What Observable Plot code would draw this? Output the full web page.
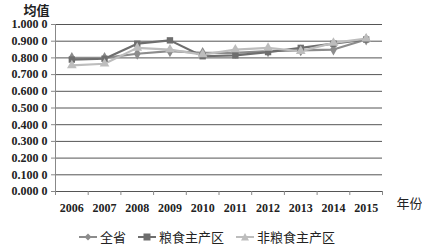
<!DOCTYPE html>
<html>
<head>
<meta charset="utf-8">
<script src="https://cdn.jsdelivr.net/npm/d3@7"></script>
<script src="https://cdn.jsdelivr.net/npm/@observablehq/plot@0.6"></script>
<style>
  body { margin: 0; background: #fff; }
  #chart svg { display: block; }
  #chart svg g[aria-label$="axis"] text, #chart svg g[aria-label$="tick label"] text { font-family: "Liberation Serif", "Times New Roman", serif !important; }
  #legend { height: 29px; display: flex; align-items: center; padding-left: 79px;
    font-family: "Noto Sans CJK SC", sans-serif; font-size: 13px; color: #222; }
  #legend .item { display: flex; align-items: center; margin-right: 12px; }
  #legend svg { margin-right: 3px; }
</style>
</head>
<body>
<div id="chart"></div>
<div id="legend"></div>
<script>
const years = [2006, 2007, 2008, 2009, 2010, 2011, 2012, 2013, 2014, 2015];
const seriesNames = ["全省", "粮食主产区", "非粮食主产区"];
const province = [0.800, 0.800, 0.825, 0.840, 0.830, 0.830, 0.840, 0.845, 0.850, 0.910];
const grainMain = [0.790, 0.795, 0.885, 0.905, 0.810, 0.815, 0.835, 0.860, 0.885, 0.910];
const nonGrain = [0.755, 0.765, 0.860, 0.850, 0.820, 0.850, 0.860, 0.840, 0.890, 0.915];
const yTicks = [0, 0.1, 0.2, 0.3, 0.4, 0.5, 0.6, 0.7, 0.8, 0.9, 1.0];

const colors = ["#8c8c8c", "#6e6e6e", "#bdbdbd"];
const symbols = ["diamond", "square", "triangle"];
const valuesList = [province, grainMain, nonGrain];

const data = [];
seriesNames.forEach((s, i) => years.forEach((yr, j) => data.push({series: s, year: yr, value: valuesList[i][j]})));
const boundaries = [...years.map(y => y - 0.5), years[years.length - 1] + 0.5];

const fmt = v => { const s = d3.format(".4f")(v); return s.slice(0, -1) + " " + s.slice(-1); };
const serif = "Liberation Serif, Times New Roman, serif";

const chart = Plot.plot({
  width: 422,
  height: 222,
  marginLeft: 55,
  marginRight: 40,
  marginTop: 24,
  marginBottom: 31,
  style: { fontFamily: serif, fontSize: "12px", fontWeight: "bold", color: "#222", background: "#fff" },
  x: { domain: [2005.5, 2015.5] },
  y: { domain: [0, 1] },
  color: { domain: seriesNames, range: colors },
  symbol: { domain: seriesNames, range: symbols },
  marks: [
    Plot.ruleY(yTicks, { stroke: "#555", strokeWidth: 1 }),
    Plot.ruleX([boundaries[0]], { stroke: "#888" }),
    Plot.axisY({ ticks: yTicks, tickFormat: fmt, tickSize: 4, tickPadding: 4, label: null, stroke: "#888", fontFamily: serif }),
    Plot.axisX({ ticks: years, tickFormat: d => String(d), tickSize: 0, tickPadding: 12, label: null, fontFamily: serif }),
    Plot.axisX({ ticks: boundaries, tickFormat: () => "", tickSize: 4, label: null, stroke: "#888" }),
    Plot.line(data, { x: "year", y: "value", z: "series", stroke: "series", strokeWidth: 2.2 }),
    Plot.dot(data, { x: "year", y: "value", fill: "series", symbol: "series", r: 3.6 }),
    Plot.text(["均值"], { frameAnchor: "top-left", text: d => d, dx: -32, dy: -19, fontSize: 13, fontFamily: "Noto Sans CJK SC, sans-serif", fontWeight: "bold", textAnchor: "start" }),
    Plot.text(["年份"], { frameAnchor: "bottom-right", text: d => d, dx: 14, dy: 16, fontSize: 13, fontFamily: "Noto Sans CJK SC, sans-serif", fontWeight: "normal", textAnchor: "start" })
  ]
});
document.getElementById("chart").appendChild(chart);

const legend = document.getElementById("legend");
const shapes = [
  c => `<path d="M9,4.5 L12.5,8 L9,11.5 L5.5,8 Z" fill="${c}"/>`,
  c => `<rect x="5.5" y="4.5" width="7" height="7" fill="${c}"/>`,
  c => `<path d="M9,4 L13,11.5 L5,11.5 Z" fill="${c}"/>`
];
seriesNames.forEach((s, i) => {
  const item = document.createElement("div");
  item.className = "item";
  item.innerHTML = `<svg width="18" height="16"><line x1="0" y1="8" x2="18" y2="8" stroke="${colors[i]}" stroke-width="2"/>${shapes[i](colors[i])}</svg><span>${s}</span>`;
  legend.appendChild(item);
});
</script>
</body>
</html>
